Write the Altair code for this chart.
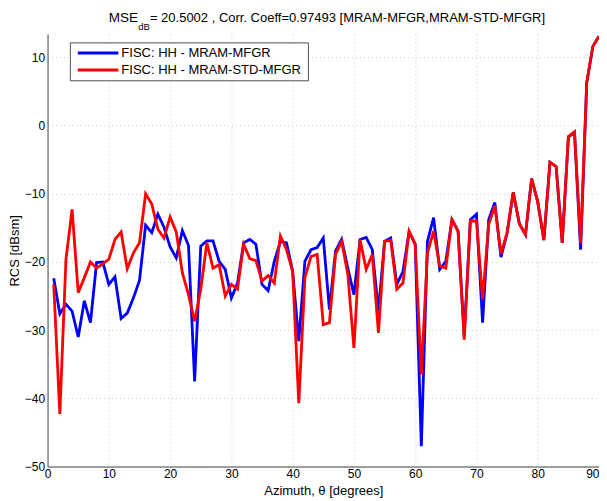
import altair as alt
import pandas as pd

azimuth = list(range(1, 91))

mram_mfgr = [
    -22.4, -27.6, -26.2, -27.2, -31.0, -25.7, -28.9, -20.1, -20.0, -23.3,
    -22.2, -28.3, -27.5, -25.3, -22.7, -14.6, -15.7, -13.0, -14.9, -17.8,
    -19.4, -15.4, -17.6, -37.5, -17.7, -16.9, -16.9, -19.9, -21.1, -25.3,
    -23.1, -17.2, -16.7, -17.4, -23.3, -24.2, -19.9, -17.0, -17.2, -21.4,
    -31.6, -19.9, -18.2, -17.9, -16.5, -27.0, -18.4, -16.7, -20.9, -24.8,
    -16.7, -16.4, -18.2, -27.2, -17.0, -16.5, -23.3, -21.4, -15.6, -17.4,
    -47.0, -17.0, -13.5, -21.1, -19.9, -13.8, -15.5, -30.9, -13.8, -13.0,
    -28.9, -13.8, -11.3, -19.3, -15.8, -9.8, -14.4, -16.0, -7.8, -11.2,
    -16.8, -5.4, -6.0, -17.2, -1.7, -1.0, -18.2, 6.3, 11.6, 13.1,
]

mram_std_mfgr = [
    -23.3, -42.3, -19.6, -12.3, -24.5, -22.3, -20.0, -20.9, -20.3, -19.6,
    -16.7, -15.6, -21.0, -18.7, -17.2, -10.0, -11.5, -15.2, -16.5, -13.4,
    -15.6, -21.6, -24.8, -28.7, -24.0, -17.2, -20.9, -20.4, -25.0, -23.3,
    -24.0, -17.4, -19.5, -19.8, -22.8, -22.0, -23.1, -16.2, -18.2, -21.4,
    -40.7, -22.3, -19.2, -18.9, -29.2, -28.9, -18.9, -17.0, -21.8, -32.6,
    -16.7, -21.1, -18.9, -30.4, -17.0, -16.8, -24.0, -23.1, -15.5, -17.4,
    -36.5, -18.7, -15.5, -20.6, -20.9, -13.8, -15.5, -31.4, -14.0, -14.0,
    -25.5, -14.5, -11.8, -18.8, -15.7, -9.8, -14.4, -16.0, -7.8, -11.2,
    -16.8, -5.4, -6.0, -17.2, -1.6, -0.9, -17.3, 6.3, 11.6, 13.1,
]

series_names = ["FISC: HH - MRAM-MFGR", "FISC: HH - MRAM-STD-MFGR"]
series_colors = ["#0000ff", "#ff0000"]

x_ticks = list(range(0, 91, 10))
y_ticks = list(range(-50, 11, 10))

title_parts = ["MSE", "dB", "= 20.5002 , Corr. Coeff=0.97493 [MRAM-MFGR,MRAM-STD-MFGR]"]

FONT = "Liberation Sans"
W = 551.7
H = 432.7

df_blue = pd.DataFrame({"az": azimuth, "rcs": mram_mfgr, "series": series_names[0]})
df_red = pd.DataFrame({"az": azimuth, "rcs": mram_std_mfgr, "series": series_names[1]})

xscale = alt.Scale(domain=[0, 90], nice=False, zero=False)
yscale = alt.Scale(domain=[-50, 13.4], nice=False, zero=False)

xaxis = alt.Axis(values=x_ticks, title="Azimuth, \u03b8 [degrees]", grid=True,
                 ticks=False, labelPadding=2, labelFlush=False,
                 labelAlign={"condition": {"test": "datum.value >= 90", "value": "right"},
                             "value": "center"},
                 titleY=24.3, titleBaseline="middle", titleFontSize=13)
yaxis = alt.Axis(values=y_ticks, title="RCS [dBsm]", grid=True, ticks=False,
                 labelPadding=3, labelFlush=False, titleX=-33, titleY=H / 2,
                 titleAngle=270, titleAlign="center", titleBaseline="middle")

color = alt.Color(
    "series:N",
    scale=alt.Scale(domain=series_names, range=series_colors),
    legend=None,
)


def line(df):
    return alt.Chart(df).mark_line(strokeWidth=2.8, clip=False).encode(
        x=alt.X("az:Q", scale=xscale, axis=xaxis),
        y=alt.Y("rcs:Q", scale=yscale, axis=yaxis),
        color=color,
    )


tdf = pd.DataFrame({"t": title_parts})
t_main = alt.Chart(tdf).transform_filter(alt.datum.t == title_parts[0]).mark_text(
    align="right", baseline="middle", fontSize=13.5, font=FONT, color="#000000"
).encode(x=alt.value(90.4), y=alt.value(-16.5), text="t:N")
t_sub = alt.Chart(tdf).transform_filter(alt.datum.t == title_parts[1]).mark_text(
    align="left", baseline="middle", fontSize=9.5, font=FONT, color="#000000"
).encode(x=alt.value(90.8), y=alt.value(-7), text="t:N")
t_rest = alt.Chart(tdf).transform_filter(alt.datum.t == title_parts[2]).mark_text(
    align="left", baseline="middle", fontSize=13, font=FONT, color="#000000"
).encode(x=alt.value(102.4), y=alt.value(-16.5), text="t:N")

# manual legend box (Matlab style)
ldf = pd.DataFrame({"name": series_names, "col": series_colors})
leg_box = alt.Chart(ldf.head(1)).mark_rect(
    fill="#ffffff", stroke="#505050", strokeWidth=1
).encode(x=alt.value(22.8), x2=alt.value(261), y=alt.value(8.8), y2=alt.value(46.7))

leg_layers = [leg_box]
row_y = [19, 36]
for i, name in enumerate(series_names):
    sub = ldf[ldf["name"] == name]
    leg_layers.append(
        alt.Chart(sub).mark_rule(strokeWidth=3, color=series_colors[i]).encode(
            x=alt.value(30.2), x2=alt.value(70.8), y=alt.value(row_y[i])
        )
    )
    leg_layers.append(
        alt.Chart(sub).mark_text(
            align="left", baseline="middle", fontSize=13, font=FONT, color="#000000"
        ).encode(x=alt.value(73.8), y=alt.value(row_y[i]), text="name:N")
    )

chart = alt.layer(line(df_blue), line(df_red), t_main, t_sub, t_rest, *leg_layers).properties(
    width=W, height=H, autosize="none",
    padding={"left": 39.6, "top": 26, "right": 0, "bottom": 34},
).configure_view(stroke=None).configure_axis(
    labelFont=FONT, titleFont=FONT, labelFontSize=12, titleFontSize=13,
    labelColor="#000000", titleColor="#000000", titleFontWeight="normal",
    domainColor="#808080", domainWidth=1.5,
    gridColor="#c8c8c8", gridDash=[1, 3], gridWidth=1,
)

chart.save("out.html", embed_options={"renderer": "svg", "actions": False})
